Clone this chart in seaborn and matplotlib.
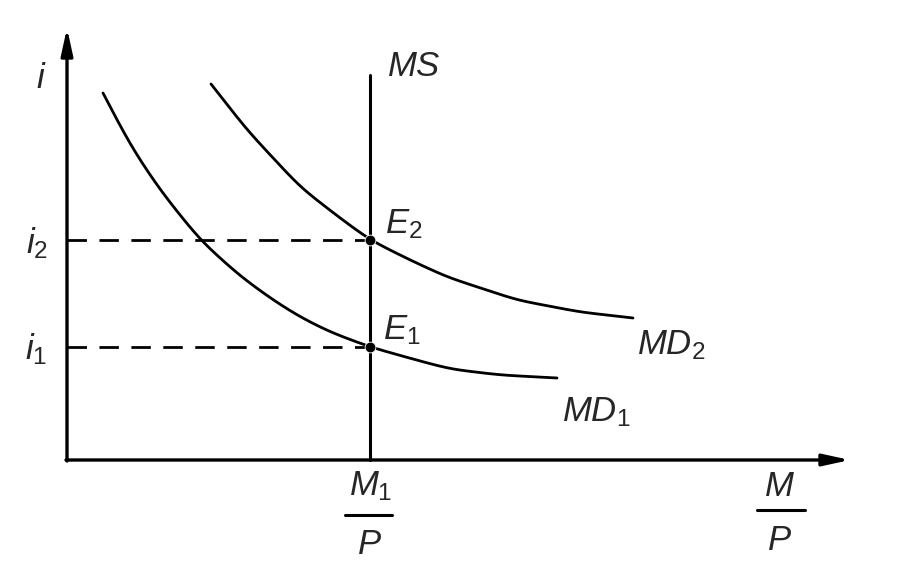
import numpy as np
import pandas as pd
import matplotlib
matplotlib.use('Agg')
import matplotlib.pyplot as plt
import seaborn as sns

# Curve points (x = M/P, y = i)
md1_x = [36, 63, 93, 133, 173, 206, 233, 263, 303, 353, 383, 433, 490]
md1_y = [367, 315, 270, 220, 184, 160, 143, 128, 113, 99, 91, 85, 82]
md2_x = [144, 180, 208, 233, 273, 303, 343, 380, 450, 513, 566]
md2_y = [376, 330, 300, 273, 242, 220, 200, 183, 160, 148, 142]

ms_x = 303
ms_top = 385
eq_i = [113, 220]

sns.set_style('white')
plt.rcParams['mathtext.fontset'] = 'custom'
plt.rcParams['mathtext.it'] = 'Liberation Sans:italic'
plt.rcParams['mathtext.rm'] = 'Liberation Sans'
plt.rcParams['font.family'] = ['Liberation Sans', 'DejaVu Sans']

fig = plt.figure(figsize=(8.98, 5.68), dpi=100)
ax = fig.add_axes([0, 0, 1, 1])
ax.set_xlim(-67, 831)
ax.set_ylim(-108, 460)
ax.axis('off')

df = pd.concat([
    pd.DataFrame({'x': md1_x, 'y': md1_y, 'curve': 'MD1'}),
    pd.DataFrame({'x': md2_x, 'y': md2_y, 'curve': 'MD2'}),
])
for name, g in df.groupby('curve'):
    # smooth the hand-read points a little
    xs = np.linspace(g['x'].min(), g['x'].max(), 400)
    ys = np.interp(xs, g['x'], g['y'])
    n = 20
    k = np.exp(-0.5 * (np.arange(-2 * n, 2 * n + 1) / n * 2) ** 2)
    k /= k.sum()
    ys_s = np.convolve(np.pad(ys, 2 * n, mode='reflect', reflect_type='odd'), k, mode='valid')
    sns.lineplot(x=xs, y=ys_s, ax=ax, color='black', lw=2.0, legend=False, sort=False)

# money supply
ax.plot([ms_x, ms_x], [0, ms_top], color='black', lw=2.2)

# dashed guides and equilibrium points
for yv in eq_i:
    ax.plot([0, ms_x], [yv, yv], color='black', lw=2.0, dashes=(7, 4.5))
sns.scatterplot(x=[ms_x] * len(eq_i), y=eq_i, ax=ax, color='black', s=60, zorder=5, legend=False)

# axes with arrows
ax.annotate('', xy=(0, 432), xytext=(0, -1),
            arrowprops=dict(arrowstyle='-|>,head_length=1.6,head_width=0.35', color='black', lw=2.4,
                            shrinkA=0, shrinkB=0))
ax.annotate('', xy=(783, 0), xytext=(-1, 0),
            arrowprops=dict(arrowstyle='-|>,head_length=1.6,head_width=0.35', color='black', lw=2.4,
                            shrinkA=0, shrinkB=0))

fs = 25
ax.text(-26, 382, r'$i$', fontsize=fs, ha='center', va='center')
ax.text(-30, 217, r'$i_2$', fontsize=fs, ha='center', va='center')
ax.text(-31, 111, r'$i_1$', fontsize=fs, ha='center', va='center')
ax.text(320, 394, r'$MS$', fontsize=fs, ha='left', va='center')
ax.text(318, 236, r'$E_2$', fontsize=fs, ha='left', va='center')
ax.text(316, 130, r'$E_1$', fontsize=fs, ha='left', va='center')
ax.text(570, 115, r'$MD_2$', fontsize=fs, ha='left', va='center')
ax.text(495, 48, r'$MD_1$', fontsize=fs, ha='left', va='center')

# fractions under the x axis
ax.text(304, -26, r'$M_1$', fontsize=fs, ha='center', va='center')
ax.plot([278, 325], [-55, -55], color='black', lw=2.2)
ax.text(302, -84, r'$P$', fontsize=fs, ha='center', va='center')
ax.text(712, -26, r'$M$', fontsize=fs, ha='center', va='center')
ax.plot([690, 738], [-50, -50], color='black', lw=2.2)
ax.text(712, -80, r'$P$', fontsize=fs, ha='center', va='center')

fig.savefig('out.png', dpi=100)
